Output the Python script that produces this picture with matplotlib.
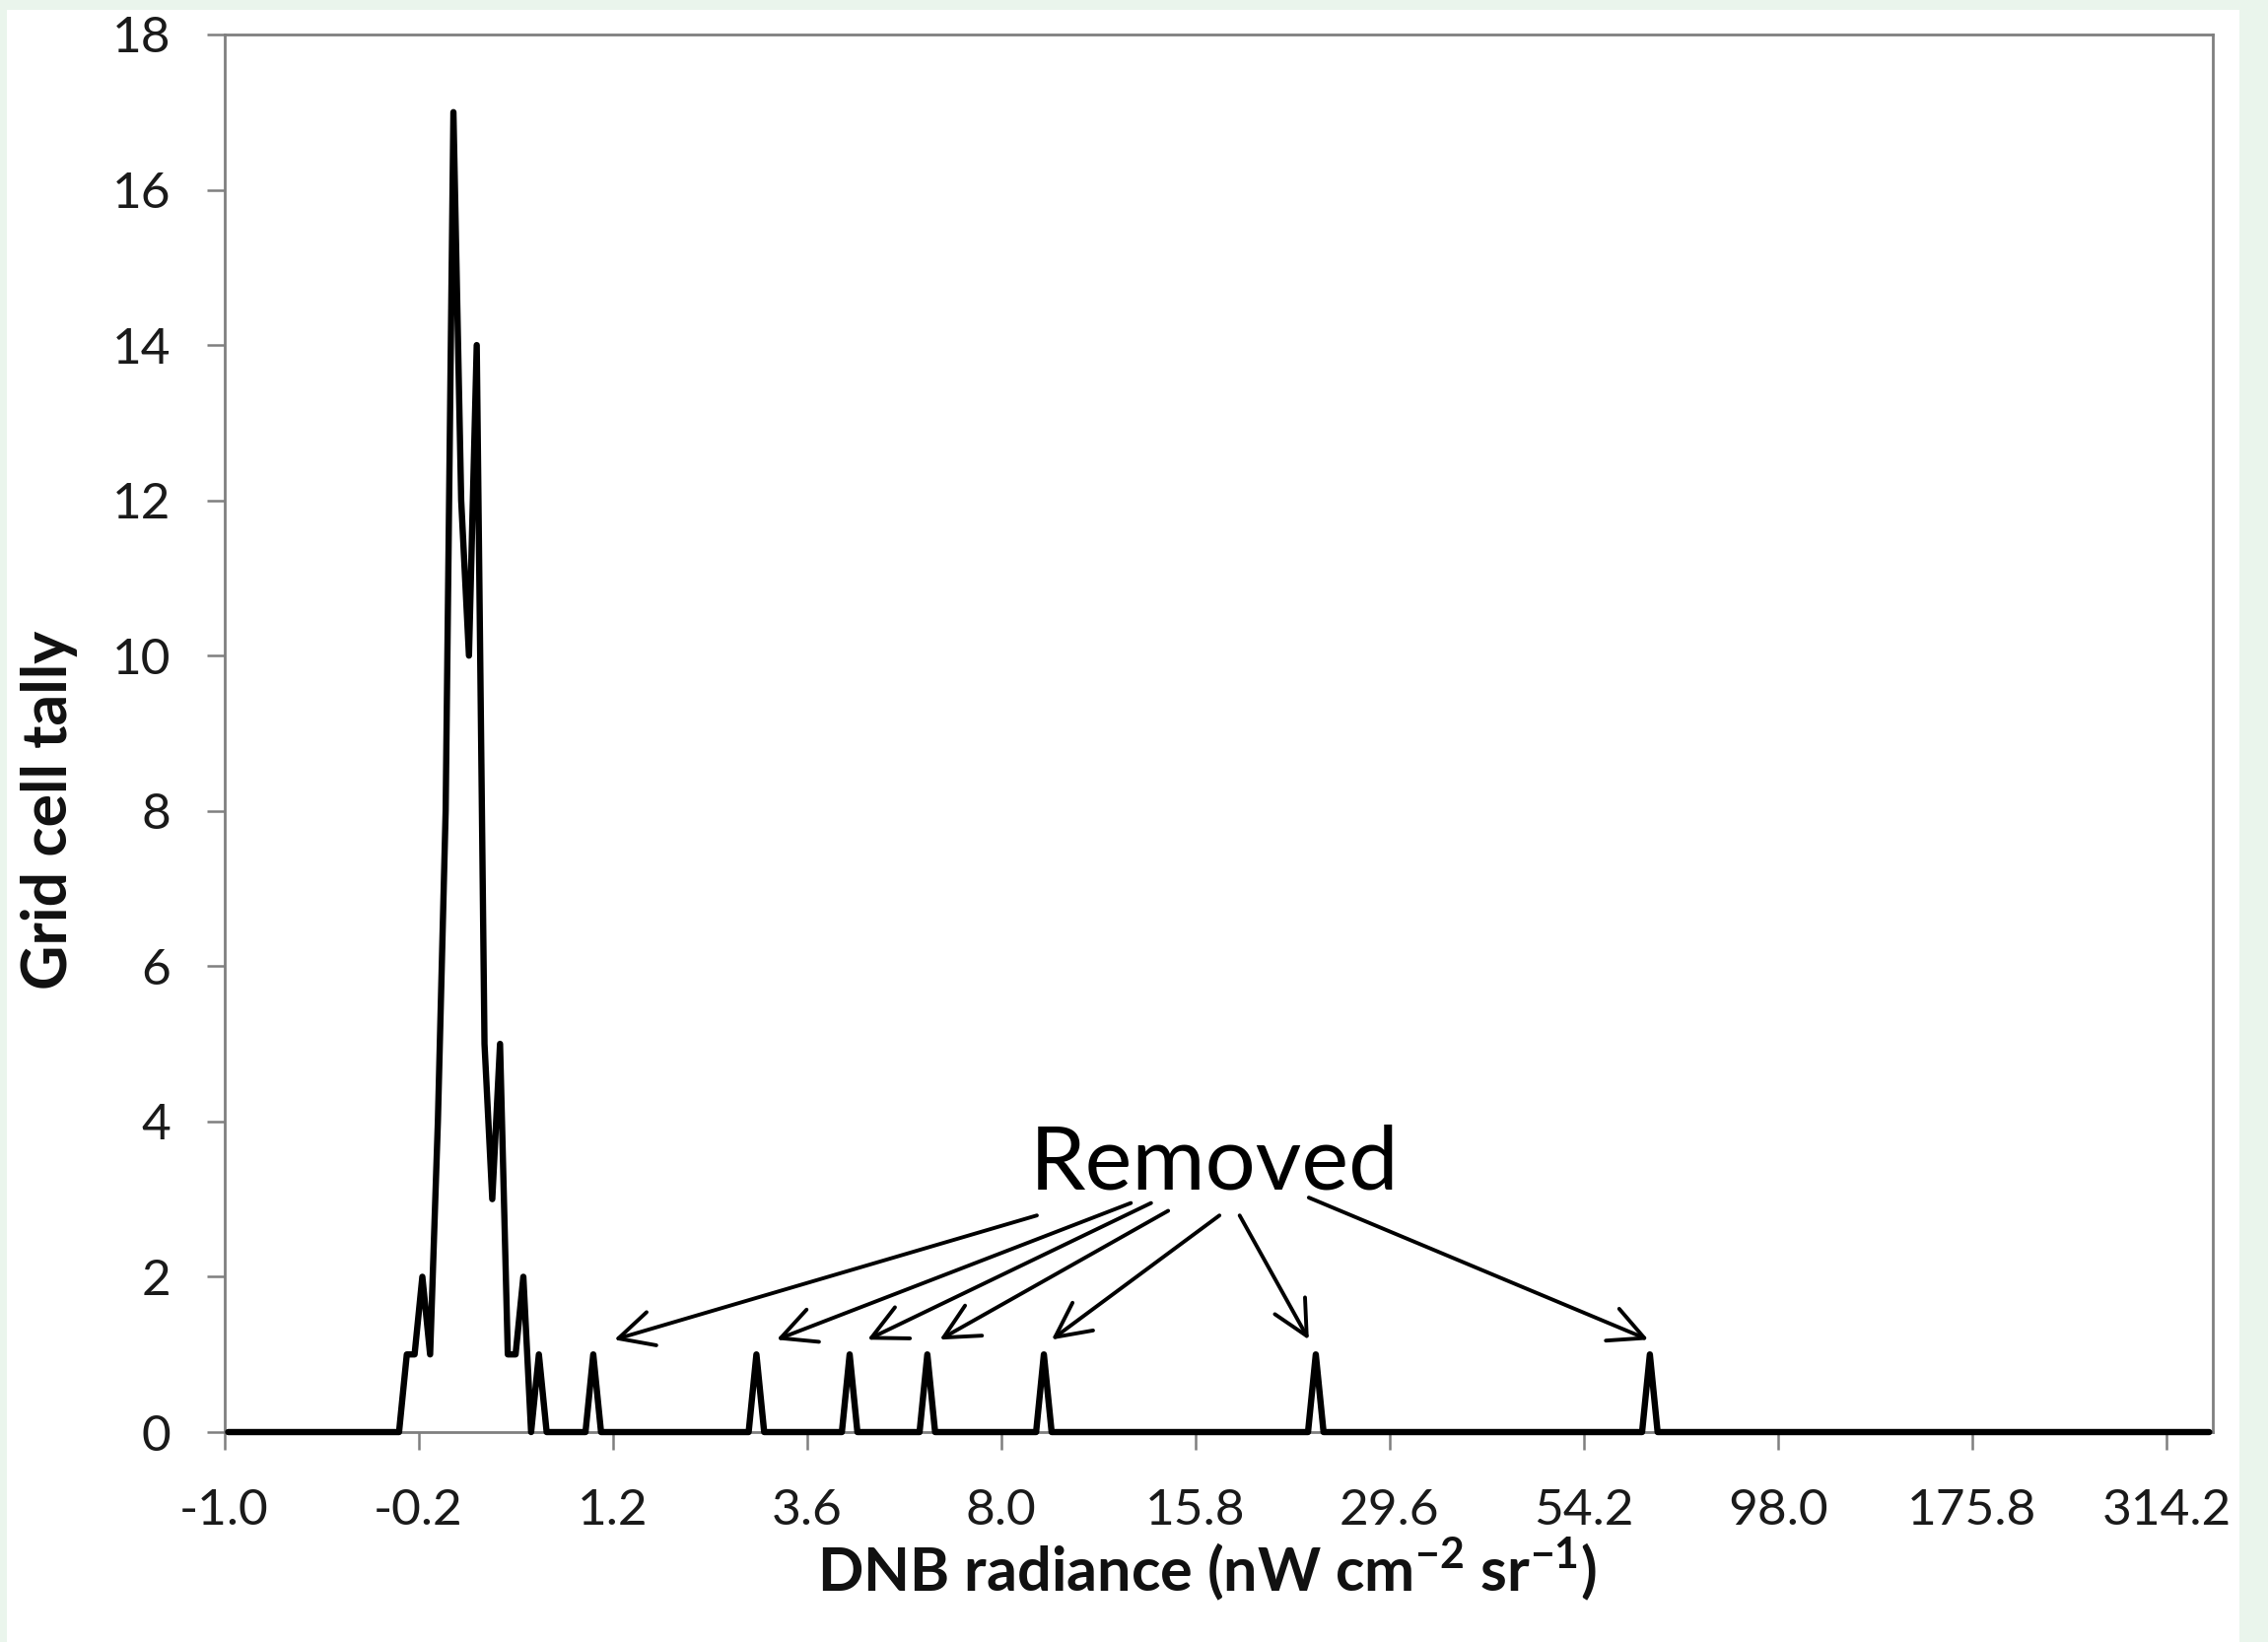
import numpy as np
import matplotlib
matplotlib.use("Agg")
import matplotlib.pyplot as plt
from matplotlib.patches import Rectangle

plt.rcParams['font.family'] = ['Lato', 'DejaVu Sans']
plt.rcParams['mathtext.fontset'] = 'custom'
plt.rcParams['mathtext.rm'] = 'Lato'
plt.rcParams['mathtext.bf'] = 'Lato:bold'
plt.rcParams['mathtext.fallback'] = 'stixsans'

# ---------------- data ----------------
n_bins = 256                      # histogram categories on the x axis
tick_every = 25                   # one tick label every 25 categories
tick_labels = ['-1.0', '-0.2', '1.2', '3.6', '8.0', '15.8', '29.6',
               '54.2', '98.0', '175.8', '314.2']

# non-zero tallies of the main cluster
cluster_bins = [23, 24, 25, 26, 27, 28, 29, 30, 31, 32, 33, 34, 35, 36, 37, 38, 40]
cluster_counts = [1, 1, 2, 1, 4, 8, 17, 12, 10, 14, 5, 3, 5, 1, 1, 2, 1]

# isolated single cells (the "Removed" ones)
removed_bins = [47, 68, 80, 90, 105, 140, 183]
removed_counts = [1, 1, 1, 1, 1, 1, 1]

y_ticks = [0, 2, 4, 6, 8, 10, 12, 14, 16, 18]

# annotation layout (arrow tails, x offset of heads from spike)
arrow_tails = [(104.6, 2.79), (116.7, 2.95), (119.3, 2.95), (121.5, 2.85),
               (128.1, 2.79), (130.7, 2.79), (139.6, 3.02)]
arrow_head_dx = [2.7, 2.6, 2.3, 1.6, 1.0, -0.9, -0.2]

# ---------------- build series ----------------
tally = np.zeros(n_bins)
tally[cluster_bins] = cluster_counts
tally[removed_bins] = removed_counts
xpos = np.arange(n_bins) + 0.5

W, H = 2301, 1666
fig = plt.figure(figsize=(W / 100, H / 100), dpi=100, facecolor='#eaf5ec')
fig.add_artist(Rectangle((7 / W, 0), (2272 - 7) / W, (H - 10) / H,
                         transform=fig.transFigure, facecolor='white',
                         edgecolor='none', zorder=-5))

ax = fig.add_axes([227.5 / W, 1 - 1453 / H, (2245.3 - 227.5) / W, (1453 - 35) / H])
ax.set_facecolor('white')

ax.plot(xpos, tally, color='black', lw=4.6, solid_joinstyle='round',
        solid_capstyle='round', clip_on=False, zorder=3)

ax.set_xlim(0, n_bins)
ax.set_ylim(0, 18)
ax.set_xticks(np.arange(len(tick_labels)) * tick_every)
ax.set_xticklabels(tick_labels)
ax.set_yticks(y_ticks)

spine_col = '#7f7f7f'
for s in ax.spines.values():
    s.set_color(spine_col)
    s.set_linewidth(2.0)

ax.tick_params(axis='both', direction='out', length=13, width=1.8,
               color=spine_col, labelsize=37, labelcolor='#1a1a1a')
ax.tick_params(axis='y', pad=26)
ax.tick_params(axis='x', pad=28)

# Removed annotation
ax.text(127.4, 3.13, 'Removed', ha='center', va='baseline', fontsize=65,
        color='black')
for (tx, ty), b, dx in zip(arrow_tails, removed_bins, arrow_head_dx):
    ax.annotate('', xy=(b + 0.5 + dx, 1.19), xytext=(tx, ty),
                arrowprops=dict(arrowstyle='->,head_length=0.6,head_width=0.3',
                                lw=2.8, color='black', mutation_scale=42,
                                shrinkA=0, shrinkB=0))

fig.text(1224 / W, 1 - 1614 / H,
         r'DNB radiance (nW cm$^{\mathbf{-2}}$ sr$^{\mathbf{-1}}$)',
         ha='center', va='baseline', fontsize=44, fontweight='bold',
         color='#111111')
fig.text(50 / W, 1 - 822 / H, 'Grid cell tally', rotation=90,
         ha='center', va='center', fontsize=45, fontweight='bold',
         color='#111111')

fig.savefig('out.png', dpi=100, facecolor=fig.get_facecolor())
